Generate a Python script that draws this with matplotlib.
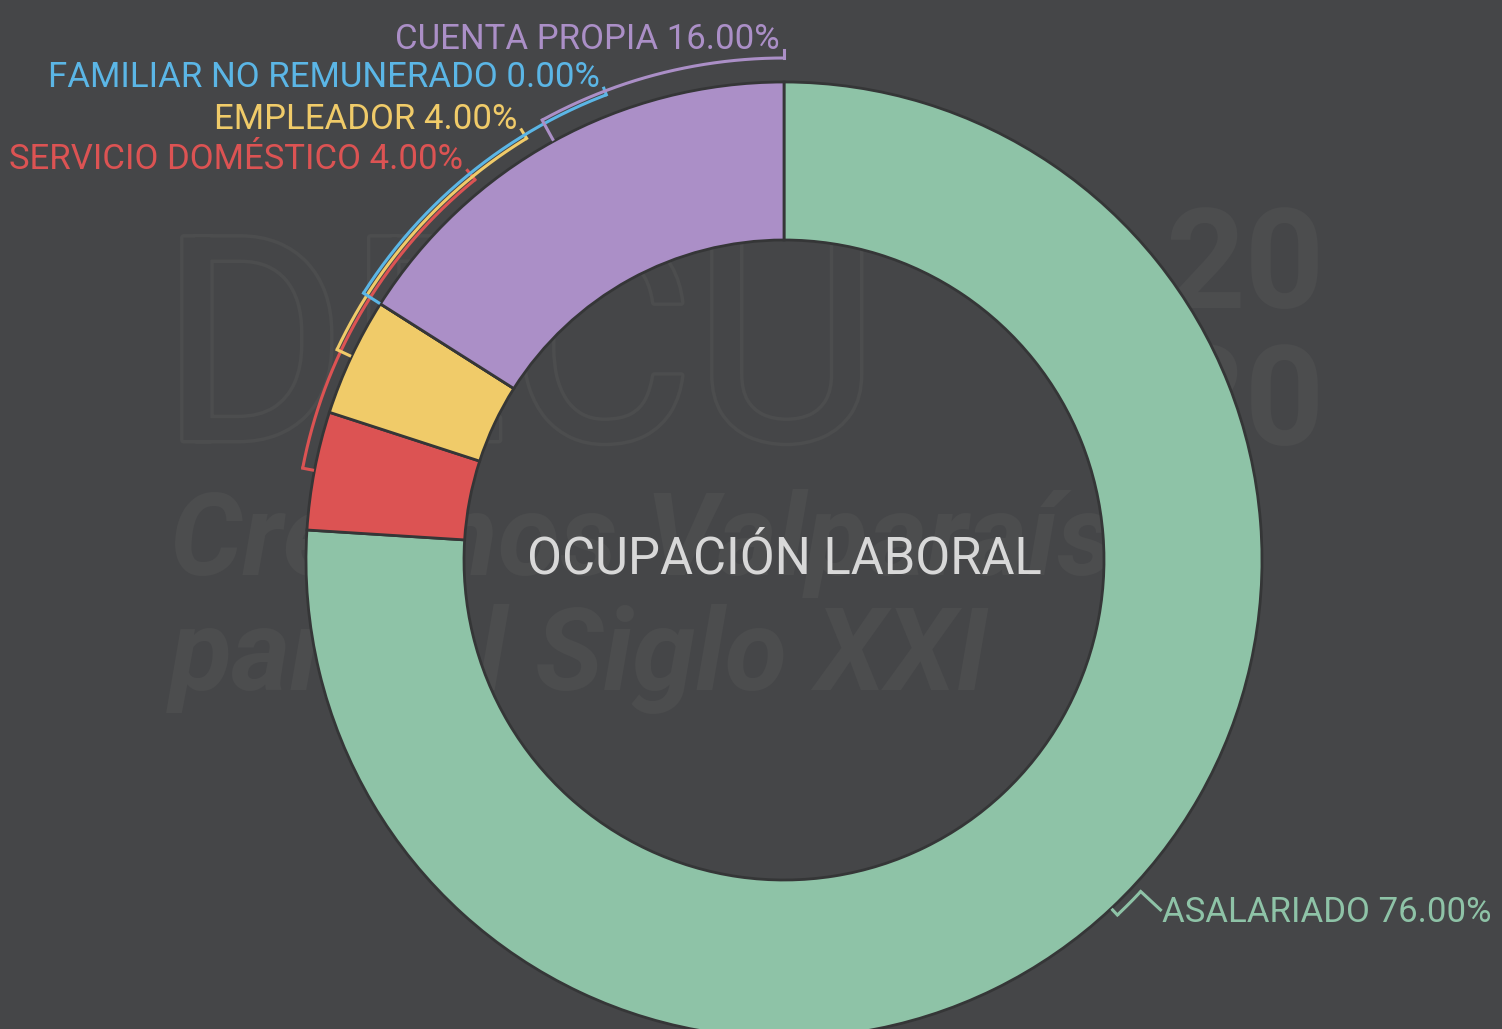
import numpy as np
import matplotlib.pyplot as plt
import matplotlib.patheffects as pe

# data
categories = ['ASALARIADO', 'SERVICIO DOMÉSTICO', 'EMPLEADOR',
              'FAMILIAR NO REMUNERADO', 'CUENTA PROPIA']
values = [76.0, 4.0, 4.0, 0.0, 16.0]
colors = ['#8ec3a7', '#dc5353', '#f0cb69', '#5bb6e6', '#ab8fc7']
center_title = 'OCUPACIÓN LABORAL'

# label layout (clockwise angle from top where each leader ends, arc radius, tick length)
label_angle = [132.9, 320.9, 328.6, 339.1, 360.0]
arc_radius = [487, 490, 494, 498, 502]
tick_len = [27, 12, 10, 7, 8]

W, H = 1502, 1029
bg = '#454648'
fig = plt.figure(figsize=(W / 100, H / 100), dpi=100, facecolor=bg)
ax = fig.add_axes([0, 0, 1, 1])
ax.set_facecolor(bg)

cx, cy = 784, H - 560
R, r_in = 478, 320

# faint background watermark
wm = '#4c4d4e'
ax.text(160, H - 440, 'DECU', fontsize=205, family='Roboto', color=bg, zorder=0,
        path_effects=[pe.withStroke(linewidth=5, foreground=wm)])
ax.text(1165, H - 308, '20', fontsize=100, family='Roboto', weight='bold', color=wm, zorder=0)
ax.text(1165, H - 445, '20', fontsize=100, family='Roboto', weight='bold', color=wm, zorder=0)
ax.text(170, H - 575, 'Creemos Valparaíso', fontsize=82, family='Roboto', weight='bold',
        style='italic', color=wm, zorder=0)
ax.text(170, H - 690, 'para el Siglo XXI', fontsize=82, family='Roboto', weight='bold',
        style='italic', color=wm, zorder=0)

wedges, _ = ax.pie(values, colors=colors, startangle=90, counterclock=False,
                   center=(cx, cy), radius=R, frame=True,
                   wedgeprops=dict(width=R - r_in, edgecolor='#353637', linewidth=2))
ax.set_xlim(0, W)
ax.set_ylim(0, H)
ax.set_aspect('equal')
ax.axis('off')

ax.text(cx, cy, center_title, ha='center', va='center', fontsize=36.5,
        family='Roboto', color='#d8d8d8', zorder=5)


def pt(theta_cw, rad):
    phi = np.deg2rad(90 - theta_cw)
    return cx + rad * np.cos(phi), cy + rad * np.sin(phi)


for i, w in enumerate(wedges):
    # mid angle of the wedge, clockwise from top
    mid = (90 - (w.theta1 + w.theta2) / 2) % 360
    end = label_angle[i]
    ra = arc_radius[i]
    c = colors[i]
    th = np.linspace(min(mid, end), max(mid, end), 200)
    xs, ys = pt(th, ra)
    ax.plot(xs, ys, color=c, lw=2.2, zorder=4, solid_capstyle='butt')
    x0, y0 = pt(mid, R + 2)
    x1, y1 = pt(mid, ra)
    ax.plot([x0, x1], [y0, y1], color=c, lw=2.2, zorder=4)
    x2, y2 = pt(end, ra)
    x3, y3 = pt(end, ra + tick_len[i])
    ax.plot([x2, x3], [y2, y3], color=c, lw=2.2, zorder=4)
    txt = f'{categories[i]} {values[i]:.2f}%'
    if x3 > cx:
        ax.text(x3 + 1, y3 - 3, txt, ha='left', va='center', fontsize=25,
                family='Roboto', color=c, zorder=5)
    else:
        ax.text(x3 - 4, y3 + 1, txt, ha='right', va='baseline', fontsize=25,
                family='Roboto', color=c, zorder=5)

fig.savefig('out.png', dpi=100, facecolor=bg)
